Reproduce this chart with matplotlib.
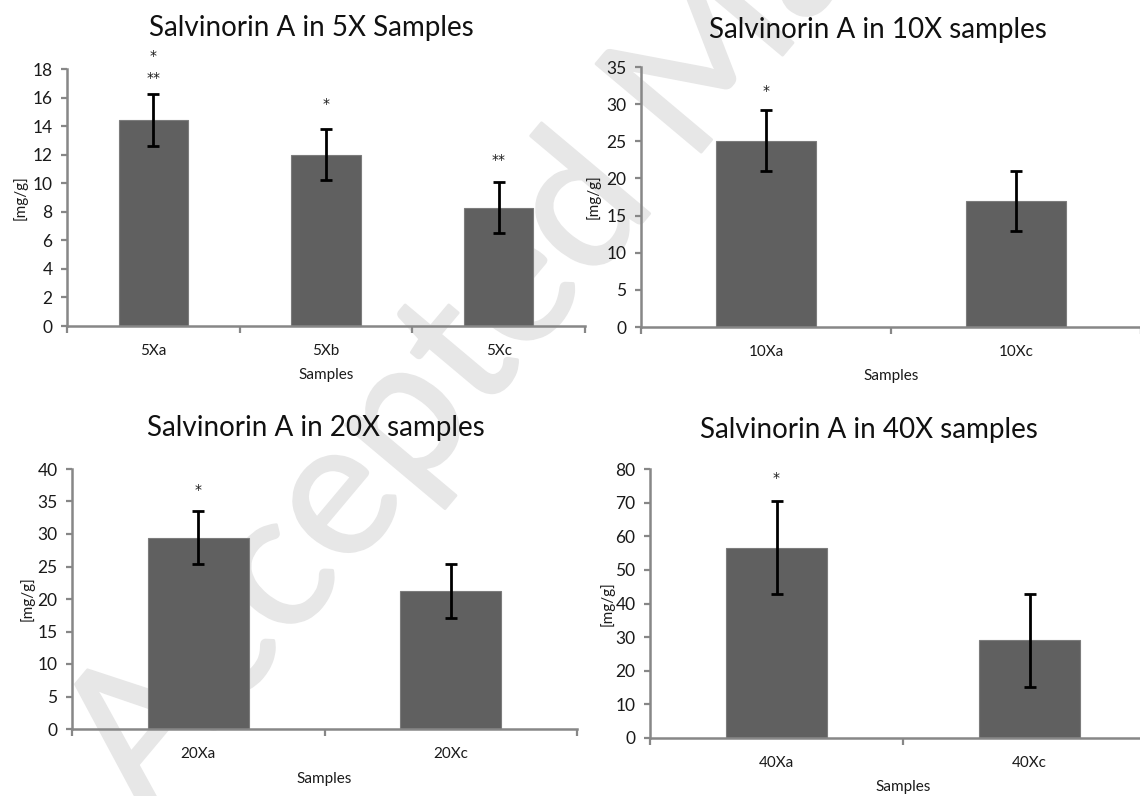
import matplotlib
matplotlib.use("Agg")
import matplotlib.pyplot as plt
import matplotlib.patheffects as pe
from matplotlib.ticker import FixedLocator, MultipleLocator

plt.rcParams["font.family"] = ["Lato", "DejaVu Sans"]

# ---- data ----
labels_5x = ["5Xa", "5Xb", "5Xc"]
values_5x = [14.43, 12.0, 8.28]
errors_5x = [1.8, 1.8, 1.8]
stars_5x = [["*", "**"], ["*"], ["**"]]
star_y_5x = [[18.9, 17.4], [15.55], [11.65]]

labels_10x = ["10Xa", "10Xc"]
values_10x = [25.05, 16.95]
errors_10x = [4.1, 4.0]
stars_10x = [["*"], []]
star_y_10x = [[31.8], []]

labels_20x = ["20Xa", "20Xc"]
values_20x = [29.45, 21.25]
errors_20x = [4.05, 4.2]
stars_20x = [["*"], []]
star_y_20x = [[36.8], []]

labels_40x = ["40Xa", "40Xc"]
values_40x = [56.6, 29.1]
errors_40x = [13.9, 13.85]
stars_40x = [["*"], []]
star_y_40x = [[77.3], []]

W, H = 1140, 796
AXIS_GREY = "#878787"
BAR_GREY = "#606060"
TEXT = "#1a1a1a"
MARK_GREY = "#e7e7e7"


def px_box(x0, x1, ytop, ybot):
    return [x0 / W, 1 - ybot / H, (x1 - x0) / W, (ybot - ytop) / H]


def draw_panel(fig, box, labels, values, errors, stars, star_y, ymax, ystep,
               title, title_xy, ylab_x, xlab_y):
    ax = fig.add_axes(px_box(*box))
    ax.set_facecolor("none")
    n = len(labels)
    centers = [i + 0.5 for i in range(n)]
    ax.bar(centers, values, width=0.4, color=BAR_GREY, edgecolor="#7c7c7c",
           linewidth=0.8, zorder=2)
    ax.errorbar(centers, values, yerr=errors, fmt="none", ecolor="black",
                elinewidth=2.0, capsize=4.5, capthick=2.0, zorder=3)
    for c, marks, ys in zip(centers, stars, star_y):
        for m, y in zip(marks, ys):
            ax.text(c, y, m, ha="center", va="center", fontsize=10, color=TEXT,
                    family=["DejaVu Sans"])

    ax.set_xlim(0, n)
    ax.set_ylim(0, ymax)
    ax.yaxis.set_major_locator(MultipleLocator(ystep))
    ax.xaxis.set_major_locator(FixedLocator(list(range(n + 1))))
    ax.xaxis.set_major_formatter(plt.NullFormatter())
    ax.set_xticks(centers, minor=True)
    ax.set_xticklabels(labels, minor=True)
    ax.tick_params(axis="x", which="major", direction="out", length=5,
                   width=1.6, color=AXIS_GREY)
    ax.tick_params(axis="x", which="minor", length=0, pad=13, labelsize=11,
                   labelcolor=TEXT)
    ax.tick_params(axis="y", direction="out", length=4.5, width=1.6,
                   color=AXIS_GREY, pad=6, labelsize=12.5, labelcolor=TEXT)
    for side in ["top", "right"]:
        ax.spines[side].set_visible(False)
    for side in ["left", "bottom"]:
        ax.spines[side].set_color(AXIS_GREY)
        ax.spines[side].set_linewidth(1.8)

    x0, x1, ytop, ybot = box
    ax.set_ylabel("[mg/g]", fontsize=11, color=TEXT)
    ax.yaxis.label.set_va("center")
    ax.yaxis.set_label_coords((ylab_x - x0) / (x1 - x0), 0.5)
    ax.set_xlabel("Samples", fontsize=11, color=TEXT)
    ax.xaxis.label.set_va("center")
    ax.xaxis.set_label_coords(0.5, -(xlab_y - ybot) / (ybot - ytop))
    fig.text(title_xy[0] / W, 1 - title_xy[1] / H, title, ha="center",
             va="center", fontsize=20, color="#111111")
    return ax


fig = plt.figure(figsize=(W / 100, H / 100), dpi=100)

# faint journal watermark behind the charts
fig.text(145 / W, 1 - 815 / H, "Accepted Manuscript", rotation=50,
         rotation_mode="anchor", ha="left", va="baseline", fontsize=138,
         color=MARK_GREY, zorder=-5,
         path_effects=[pe.withStroke(linewidth=2, foreground=MARK_GREY)])

draw_panel(fig, (67, 585, 69, 326), labels_5x, values_5x, errors_5x, stars_5x,
           star_y_5x, 18, 2, "Salvinorin A in 5X Samples", (311, 28), 20, 375)
draw_panel(fig, (641, 1141, 67, 327), labels_10x, values_10x, errors_10x,
           stars_10x, star_y_10x, 35, 5, "Salvinorin A in 10X samples",
           (878, 30), 593, 376)
draw_panel(fig, (72, 577, 469, 729), labels_20x, values_20x, errors_20x,
           stars_20x, star_y_20x, 40, 5, "Salvinorin A in 20X samples",
           (316, 428), 27, 779)
draw_panel(fig, (650, 1156, 469, 738), labels_40x, values_40x, errors_40x,
           stars_40x, star_y_40x, 80, 10, "Salvinorin A in 40X samples",
           (869, 430), 607, 787)

fig.savefig("out.png", dpi=100)
